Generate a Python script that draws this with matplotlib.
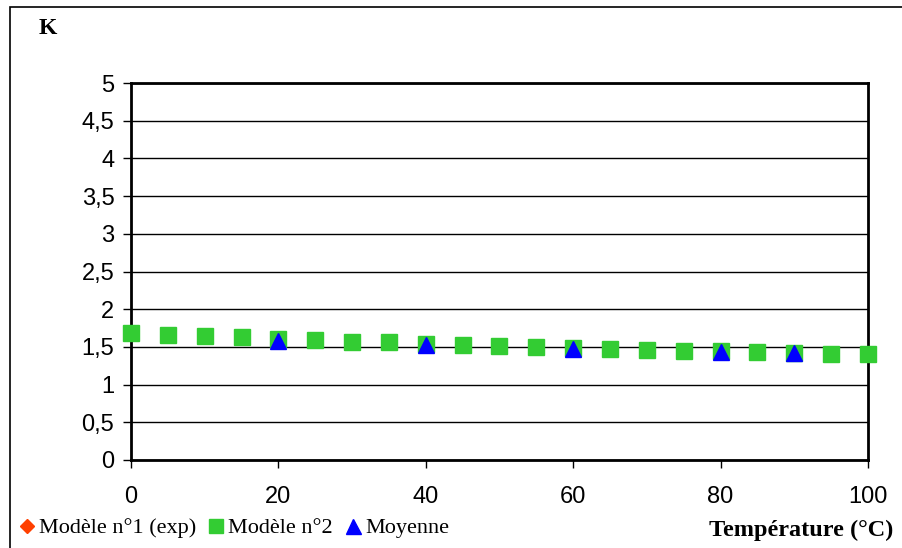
import matplotlib.pyplot as plt
from matplotlib.patches import Rectangle

# temperature (°C) and K values
temp_m2 = [0, 5, 10, 15, 20, 25, 30, 35, 40, 45, 50,
           55, 60, 65, 70, 75, 80, 85, 90, 95, 100]
k_m2 = [1.68, 1.66, 1.64, 1.63, 1.60, 1.59, 1.57, 1.56, 1.54, 1.525, 1.51,
        1.50, 1.48, 1.47, 1.46, 1.45, 1.44, 1.43, 1.42, 1.41, 1.40]

temp_exp = [20, 40, 60, 80, 90]
k_exp = [1.58, 1.52, 1.47, 1.43, 1.42]
k_moy = [1.58, 1.52, 1.47, 1.43, 1.42]

yticks = [0, 0.5, 1, 1.5, 2, 2.5, 3, 3.5, 4, 4.5, 5]
ylabels = ['0', '0,5', '1', '1,5', '2', '2,5', '3', '3,5', '4', '4,5', '5']
xticks = [0, 20, 40, 60, 80, 100]

fig = plt.figure(figsize=(9.03, 5.48), dpi=100)
ax = fig.add_axes([131/903, 1 - 460/548, (868-131)/903, (460-83)/548])

# outer chart frame (clipped at right/bottom like the original)
fig.patches.append(Rectangle((10/903, -0.1), 1.2, 1 - 7/548 + 0.1, transform=fig.transFigure,
                             fill=False, edgecolor='black', linewidth=1.2))

ax.plot(temp_exp, k_exp, linestyle='none', marker='D', color='#ff4000',
        markersize=8, label='Modèle n°1 (exp)', zorder=3, clip_on=False)
ax.plot(temp_m2, k_m2, linestyle='none', marker='s', color='#33cc33',
        markersize=11, label='Modèle n°2', zorder=4, clip_on=False)
ax.plot(temp_exp, k_moy, linestyle='none', marker='^', color='#0000ff',
        markersize=12, label='Moyenne', zorder=5, clip_on=False)

ax.set_xlim(0, 100)
ax.set_ylim(0, 5)
ax.set_yticks(yticks)
ax.set_yticklabels(ylabels)
ax.set_xticks(xticks)
ax.grid(axis='y', color='black', linewidth=1)
ax.set_axisbelow(True)
for s in ax.spines.values():
    s.set_linewidth(2)
ax.tick_params(direction='out', length=6, width=1, pad=6,
               labelsize=17, labelfontfamily='Liberation Sans')
ax.tick_params(axis='x', pad=13)

fig.text(48/903, 1 - 28/548, 'K', fontfamily='Liberation Serif', fontweight='bold',
         fontsize=17, ha='center', va='center')
fig.text(893/903, 1 - 530/548, 'Température (°C)', fontfamily='Liberation Serif',
         fontweight='bold', fontsize=17.5, ha='right', va='center')

fig.legend(loc='center left', bbox_to_anchor=(20/903, 1 - 528/548), ncol=3, frameon=False,
           prop={'family': 'Liberation Serif', 'size': 16}, handlelength=0.6,
           handletextpad=0.25, columnspacing=0.6, borderaxespad=0, borderpad=0,
           markerscale=0.9)

fig.savefig('out.png', dpi=100)
